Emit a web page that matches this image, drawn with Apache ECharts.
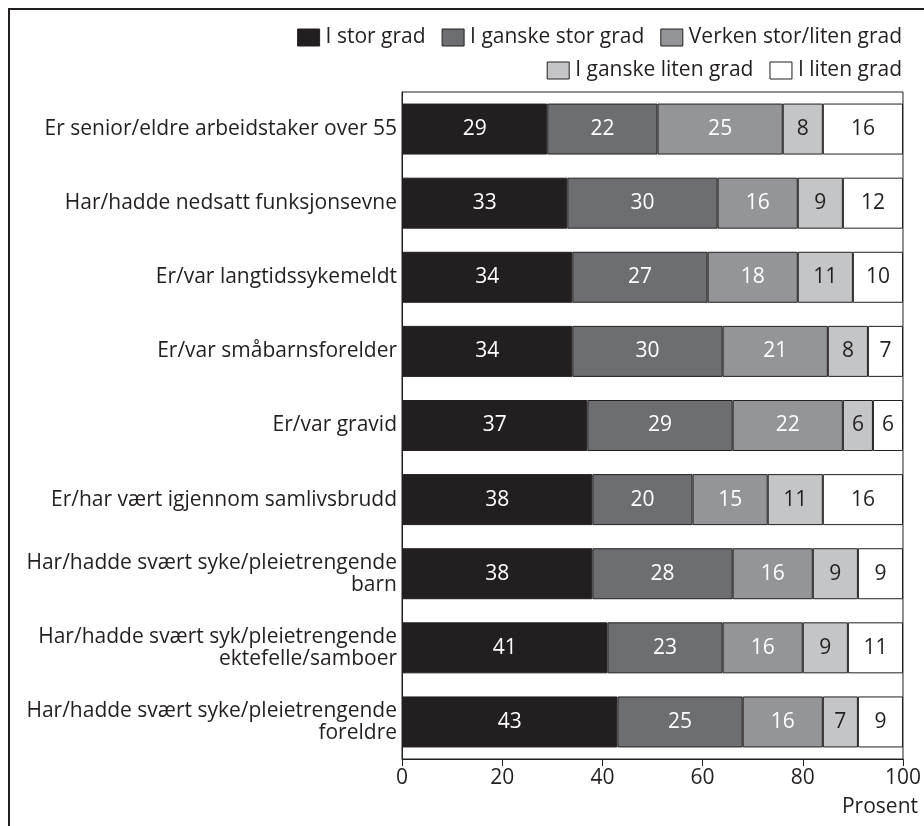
<!DOCTYPE html>
<html>
<head>
<meta charset="utf-8">
<script src="https://cdn.jsdelivr.net/npm/echarts@6/dist/echarts.min.js"></script>
<style>
  html, body { margin: 0; padding: 0; background: #fff; }
  #chart { width: 924px; height: 826px; }
</style>
</head>
<body>
<div id="chart"></div>
<script>
// Situations (top to bottom)
var categories = [
  'Er senior/eldre arbeidstaker over 55',
  'Har/hadde nedsatt funksjonsevne',
  'Er/var langtidssykemeldt',
  'Er/var småbarnsforelder',
  'Er/var gravid',
  'Er/har vært igjennom samlivsbrudd',
  'Har/hadde svært syke/pleietrengende\nbarn',
  'Har/hadde svært syk/pleietrengende\nektefelle/samboer',
  'Har/hadde svært syke/pleietrengende\nforeldre'
];

// Response categories
var seriesNames = ['I stor grad', 'I ganske stor grad', 'Verken stor/liten grad', 'I ganske liten grad', 'I liten grad'];

// Percent per response category
var iStorGrad        = [29, 33, 34, 34, 37, 38, 38, 41, 43];
var iGanskeStorGrad  = [22, 30, 27, 30, 29, 20, 28, 23, 25];
var verken           = [25, 16, 18, 21, 22, 15, 16, 16, 16];
var iGanskeLitenGrad = [8, 9, 11, 8, 6, 11, 9, 9, 7];
var iLitenGrad       = [16, 12, 10, 7, 6, 16, 9, 11, 9];

// X axis ticks
var xTicks = [0, 20, 40, 60, 80, 100];

var seriesValues = [iStorGrad, iGanskeStorGrad, verken, iGanskeLitenGrad, iLitenGrad];
var fills = ['#231f20', '#6d6e71', '#939598', '#c4c5c7', '#ffffff'];
var labelColors = ['#ffffff', '#ffffff', '#ffffff', '#231f20', '#231f20'];
var ink = '#231f20';
var font = 'Open Sans';
var fs = 21;

var chart = echarts.init(document.getElementById('chart'), null, { renderer: 'canvas' });

var series = seriesNames.map(function (name, i) {
  return {
    name: name,
    type: 'bar',
    stack: 'total',
    barWidth: 51,
    data: seriesValues[i],
    itemStyle: { color: fills[i], borderColor: ink, borderWidth: 1 },
    label: {
      show: true,
      position: 'inside',
      color: labelColors[i],
      fontFamily: font,
      fontSize: fs
    },
    emphasis: { disabled: true }
  };
});

var legendCommon = {
  right: 17,
  itemWidth: 22,
  itemHeight: 17,
  itemGap: 16,
  icon: 'rect',
  selectedMode: false,
  itemStyle: { borderColor: ink, borderWidth: 1 },
  textStyle: { color: ink, fontFamily: font, fontSize: fs, padding: [0, 0, 0, 1] }
};

chart.setOption({
  animation: false,
  backgroundColor: '#ffffff',
  textStyle: { fontFamily: font },
  legend: [
    Object.assign({ top: 22, data: seriesNames.slice(0, 3) }, legendCommon),
    Object.assign({ top: 55, data: seriesNames.slice(3) }, legendCommon)
  ],
  grid: {
    left: 402,
    right: 21,
    top: 92,
    height: 667,
    show: true,
    borderColor: ink,
    borderWidth: 1,
    containLabel: false
  },
  xAxis: {
    type: 'value',
    min: xTicks[0],
    max: xTicks[xTicks.length - 1],
    interval: 20,
    axisLine: { show: true, lineStyle: { color: ink, width: 1 } },
    axisTick: { show: true, length: 7, lineStyle: { color: ink } },
    splitLine: { show: false },
    axisLabel: { color: ink, fontFamily: font, fontSize: fs, margin: 9 }
  },
  yAxis: {
    type: 'category',
    inverse: true,
    data: categories,
    axisLine: { show: true, lineStyle: { color: ink, width: 1 } },
    axisTick: { show: false },
    axisLabel: {
      color: ink,
      fontFamily: font,
      fontSize: fs,
      lineHeight: 22,
      margin: 5,
      align: 'right'
    }
  },
  graphic: [
    {
      type: 'rect',
      shape: { x: 9, y: 9, width: 1000, height: 1000 },
      style: { fill: 'none', stroke: ink, lineWidth: 2 },
      silent: true
    },
    {
      type: 'text',
      right: 6,
      top: 797,
      style: { text: 'Prosent', fill: ink, font: fs + 'px "Open Sans"' },
      silent: true
    }
  ],
  series: series
});
</script>
</body>
</html>
